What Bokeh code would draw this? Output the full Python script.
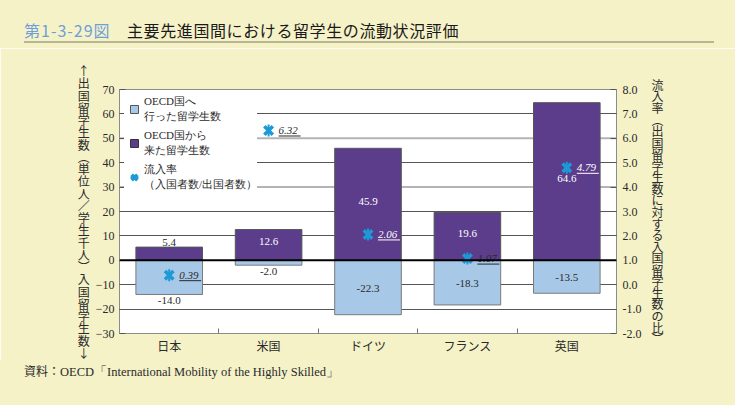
import math
from bokeh.plotting import figure
from bokeh.layouts import column
from bokeh.models import (Range1d, LinearAxis, FixedTicker, Span, Div,
                          Legend, LegendItem, ColumnDataSource, NumeralTickFormatter)
from bokeh.core.properties import value
from bokeh.embed import file_html
from bokeh.resources import INLINE

# ---------------- data ----------------
countries = ["日本", "米国", "ドイツ", "フランス", "英国"]
outflow = [-14.0, -2.0, -22.3, -18.3, -13.5]   # OECD国へ行った留学生数
inflow = [5.4, 12.6, 45.9, 19.6, 64.6]         # OECD国から来た留学生数
rate = [0.39, 6.32, 2.06, 1.07, 4.79]          # 流入率
left_ticks = [-30, -20, -10, 0, 10, 20, 30, 40, 50, 60, 70]
right_ticks = [-2, -1, 0, 1, 2, 3, 4, 5, 6, 7, 8]

# ---------------- style ----------------
BG = "#f5f2c8"
PURPLE = "#5c3d8c"
LBLUE = "#a8c8e8"
MARK = "#1b9ad6"
SERIF = "Liberation Serif"
CJK = "Noto Sans CJK JP"
TXT = "#2a2a2a"

W = 735
TOP_H, FIG_H, BOT_H = 48, 312, 45          # title strip / figure / source strip
FL, FR, FT, FB = 119, 616, 89, 333          # frame edges in page pixels
FW, FH = FR - FL, FB - FT

n = len(countries)
xs = [i + 0.5 for i in range(n)]

p = figure(frame_width=FW, frame_height=FH, x_range=Range1d(0, n), y_range=Range1d(-30, 70),
           output_backend="svg", toolbar_location=None,
           min_border_left=FL, min_border_right=W - FR,
           min_border_top=FT - TOP_H, min_border_bottom=TOP_H + FIG_H - FB,
           background_fill_color="white", border_fill_color=BG)
p.outline_line_color = "#8c8c8c"

# grid
p.xgrid.visible = False
p.ygrid.ticker = FixedTicker(ticks=[-20, -10, 10, 20, 40, 60])
p.ygrid.grid_line_color = "#555555"
for g in (30, 50):
    p.add_layout(Span(location=g, dimension="width", line_color="#b4b4b4", line_width=2, level="underlay"))

# x axis
xa = p.xaxis[0]
xa.ticker = FixedTicker(ticks=xs, minor_ticks=[1, 2, 3, 4])
xa.major_label_overrides = {x: c for x, c in zip(xs, countries)}
xa.major_tick_line_color = None
xa.minor_tick_in = 5
xa.minor_tick_out = 0
xa.minor_tick_line_color = "#777777"
xa.axis_line_color = None
xa.major_label_text_font = CJK
xa.major_label_text_font_size = "12px"
xa.major_label_text_color = TXT
xa.major_label_standoff = -3

# left axis
ya = p.yaxis[0]
ya.ticker = FixedTicker(ticks=left_ticks)
ya.axis_line_color = None
ya.major_tick_in = 6
ya.major_tick_out = 0
ya.major_tick_line_color = "#555555"
ya.minor_tick_line_color = None
ya.major_label_text_font = SERIF
ya.major_label_text_font_size = "12px"
ya.major_label_text_color = TXT
ya.major_label_standoff = 5
ya.axis_label = "\n".join("↑出国留学生数︵単位人／学生千人︶入国留学生数↓")
ya.axis_label_orientation = "horizontal"
ya.axis_label_text_font = CJK
ya.axis_label_text_font_size = "12px"
ya.axis_label_text_font_style = "normal"
ya.axis_label_text_color = TXT
ya.axis_label_text_line_height = 0.72
ya.axis_label_standoff = 3

# right axis
p.extra_y_ranges = {"rate": Range1d(-2, 8)}
ra = LinearAxis(y_range_name="rate", ticker=FixedTicker(ticks=right_ticks),
                formatter=NumeralTickFormatter(format="0.0"))
ra.axis_line_color = None
ra.major_tick_in = 6
ra.major_tick_out = 0
ra.major_tick_line_color = "#555555"
ra.minor_tick_line_color = None
ra.major_label_text_font = SERIF
ra.major_label_text_font_size = "12px"
ra.major_label_text_color = TXT
ra.major_label_standoff = 6
ra.axis_label = "\n".join("流入率︵出国留学生数に対する入国留学生数の比︶")
ra.axis_label_orientation = "horizontal"
ra.axis_label_text_font = CJK
ra.axis_label_text_font_size = "12px"
ra.axis_label_text_font_style = "normal"
ra.axis_label_text_color = TXT
ra.axis_label_text_line_height = 0.68
ra.axis_label_standoff = 7
p.add_layout(ra, "right")

# bars
src = ColumnDataSource(dict(x=xs, inflow=inflow, outflow=outflow, rate=rate))
r_out = p.vbar(x="x", top=0, bottom="outflow", width=0.67, source=src,
               fill_color=LBLUE, line_color="#7a7a7a", line_width=1)
r_in = p.vbar(x="x", top="inflow", bottom=0, width=0.67, source=src,
              fill_color=PURPLE, line_color="#555555", line_width=1)
p.add_layout(Span(location=0, dimension="width", line_color="black", line_width=2, level="overlay"))

# bar value labels
in_pos = ["above", "mid", "mid", "mid", "mid"]
out_pos = ["below", "below", "mid", "mid", "mid"]
lab_x, lab_y, lab_t, lab_base, lab_col, lab_off = [], [], [], [], [], []
for i in range(n):
    v = inflow[i]
    lab_x.append(xs[i]); lab_t.append("%.1f" % v)
    if in_pos[i] == "above":
        lab_y.append(v); lab_base.append("bottom"); lab_col.append(TXT); lab_off.append(-1)
    else:
        lab_y.append(v / 2); lab_base.append("middle"); lab_col.append("white"); lab_off.append(-3)
    v = outflow[i]
    lab_x.append(xs[i]); lab_t.append("%.1f" % v)
    if out_pos[i] == "below":
        lab_y.append(v); lab_base.append("top"); lab_col.append(TXT); lab_off.append(3)
    else:
        lab_y.append(v / 2); lab_base.append("middle"); lab_col.append(TXT); lab_off.append(1)
lsrc = ColumnDataSource(dict(x=lab_x, y=lab_y, t=lab_t, b=lab_base, c=lab_col, o=lab_off))
p.text(x="x", y="y", text="t", source=lsrc, text_align="center", text_baseline="b",
       text_color="c", y_offset="o", text_font=value(SERIF), text_font_size="11px")

# rate markers and labels
r_x = p.scatter(x="x", y="rate", source=src, y_range_name="rate", marker="x",
                size=12, line_width=3.5, line_color=MARK)
r_d = p.scatter(x="x", y="rate", source=src, y_range_name="rate", marker="dash",
                angle=math.pi / 2, size=12, line_width=2, line_color=MARK)

rate_col = [TXT, TXT, "white", TXT, "white"]
px_per_x = FW / n
px_per_r = FH / 10.0
rsrc = ColumnDataSource(dict(x=xs, y=rate, t=["%.2f" % r for r in rate], c=rate_col,
                             x0=[x + 10 / px_per_x for x in xs],
                             x1=[x + 32 / px_per_x for x in xs],
                             yu=[r - 5.5 / px_per_r for r in rate]))
p.text(x="x", y="y", text="t", source=rsrc, y_range_name="rate", x_offset=10,
       text_align="left", text_baseline="middle", text_color="c",
       text_font=value(SERIF), text_font_size="11px", text_font_style="italic")
p.segment(x0="x0", x1="x1", y0="yu", y1="yu", source=rsrc, y_range_name="rate",
          line_color="c", line_width=1)

# legend swatches: hidden square-marker renderers so all swatches share one size
sw_out = p.scatter(x="x", y="outflow", source=src, marker="square", fill_color=LBLUE,
                   line_color="#555555", line_width=1, visible=False)
sw_in = p.scatter(x="x", y="inflow", source=src, marker="square", fill_color=PURPLE,
                  line_color="#333333", line_width=1, visible=False)
legend = Legend(items=[
    LegendItem(label="OECD国へ\n行った留学生数", renderers=[sw_out]),
    LegendItem(label="OECD国から\n来た留学生数", renderers=[sw_in]),
    LegendItem(label="流入率\n（入国者数/出国者数）", renderers=[r_x, r_d]),
], location="top_left")
legend.label_text_font = SERIF
legend.label_text_font_size = "11px"
legend.label_text_color = TXT
legend.label_text_line_height = 1.2
legend.glyph_width = 20
legend.glyph_height = 20
legend.label_standoff = -8
legend.spacing = 4
legend.padding = 12
legend.margin = 5
legend.inactive_fill_alpha = 0.0
legend.background_fill_color = "white"
legend.background_fill_alpha = 1.0
legend.border_line_color = None
p.add_layout(legend)

# title strip and source strip
title_html = (
    '<div style="position:relative;width:%dpx;height:%dpx;background:%s;overflow:hidden;">'
    '<span style="position:absolute;left:24px;top:20px;font-family:\'%s\';font-size:16px;'
    'line-height:20px;letter-spacing:1px;color:#6f9fd8;white-space:nowrap;">第1-3-29図</span>'
    '<span style="position:absolute;left:127px;top:20px;font-family:\'%s\';font-size:16px;'
    'line-height:20px;letter-spacing:0.6px;color:#1a1a1a;white-space:nowrap;">'
    '主要先進国間における留学生の流動状況評価</span>'
    '<div style="position:absolute;left:24px;top:41px;width:690px;height:2px;background:#b7b594;"></div>'
    '</div>' % (W, TOP_H, BG, CJK, CJK))
source_html = (
    '<div style="position:relative;width:%dpx;height:%dpx;background:%s;overflow:hidden;">'
    '<span style="position:absolute;left:24px;top:4px;line-height:14px;font-size:12px;color:%s;'
    'white-space:nowrap;"><span style="font-family:\'%s\';">資料：</span>'
    '<span style="font-family:\'%s\';font-size:12.5px;">OECD「International Mobility of the Highly Skilled」</span>'
    '</span></div>' % (W, BOT_H, BG, TXT, CJK, SERIF))

title_div = Div(text=title_html, width=W, height=TOP_H, margin=0, styles={"background-color": BG})
source_div = Div(text=source_html, width=W, height=BOT_H, margin=0, styles={"background-color": BG})

layout = column(title_div, p, source_div, spacing=0)

html = file_html(layout, INLINE)
open("out.html", "w").write(html)
